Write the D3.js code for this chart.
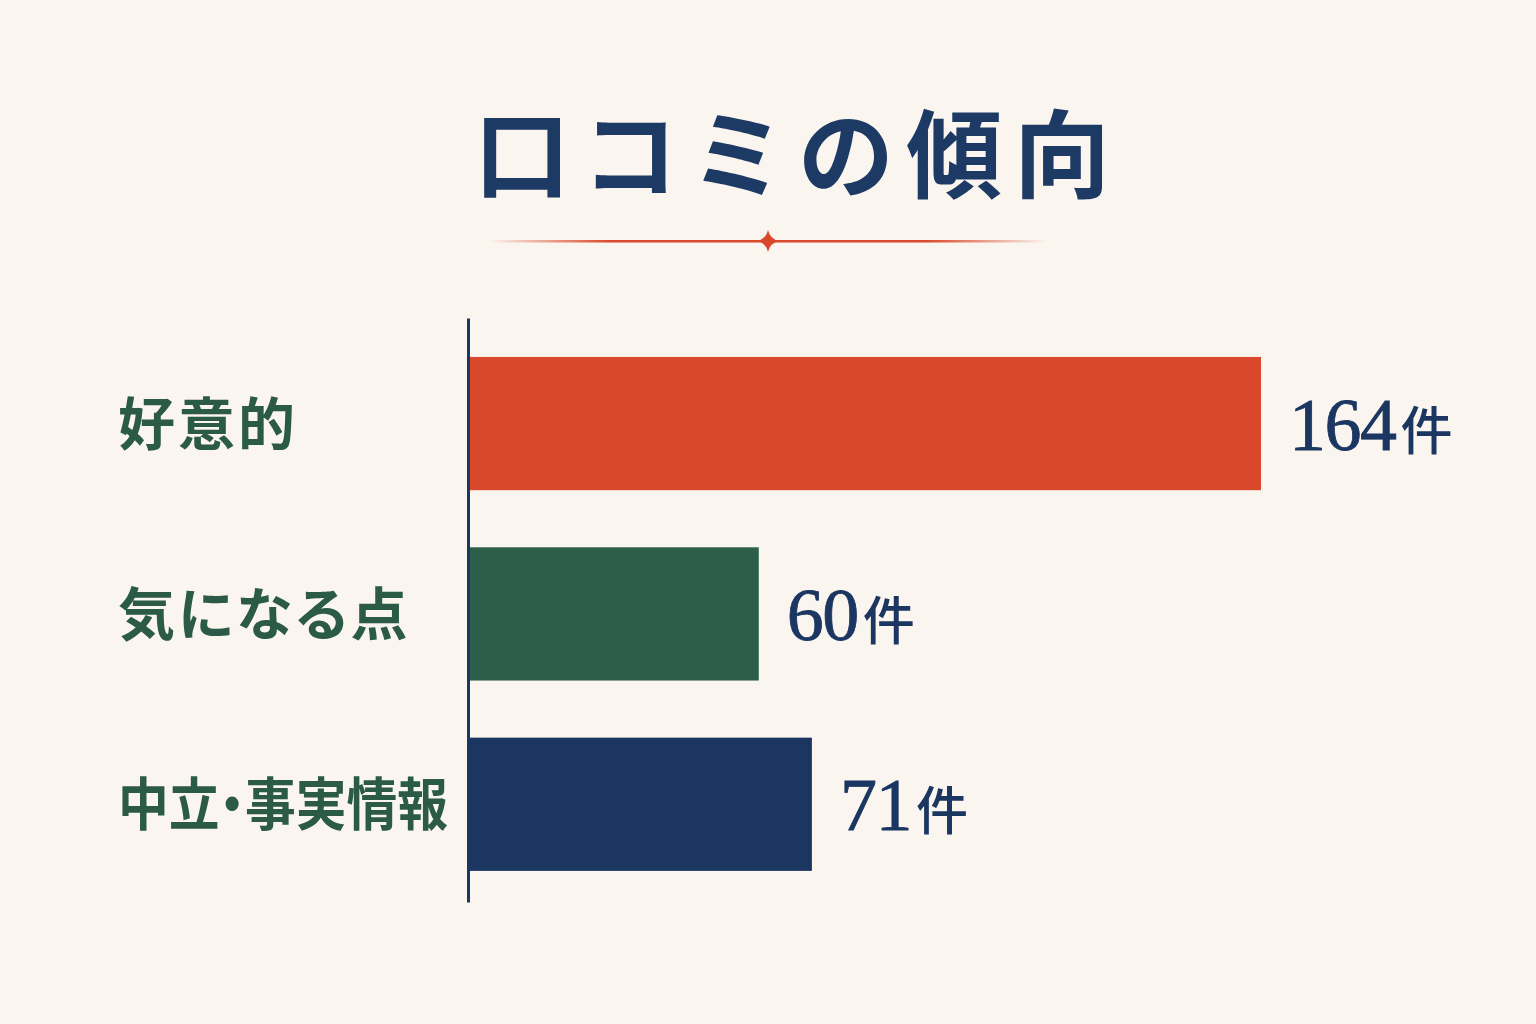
<!DOCTYPE html>
<html lang="ja">
  <head>
    <meta charset="UTF-8" />
    <title>口コミの傾向</title>
    <script src="https://cdn.jsdelivr.net/npm/d3@7"></script>
    <style>
      html, body { margin: 0; padding: 0; background: #faf6ef; }
      svg { display: block; }
      .label { font-feature-settings: "palt"; }
    </style>
  </head>
  <body>
    <div id="chart"></div>
    <script>
      // データ
      const title = "口コミの傾向";
      const categories = ["好意的", "気になる点", "中立・事実情報"];
      const values = [164, 60, 71];
      const unit = "件";
      const colors = ["#d9482b", "#2d5e4a", "#1b3661"];

      const width = 1536;
      const height = 1024;
      const navy = "#1b3661";
      const green = "#2b5a47";
      const jp = "'Noto Sans CJK JP', 'Noto Sans', sans-serif";
      const serif = "'Liberation Serif', 'DejaVu Serif', serif";

      const svg = d3.select("#chart")
        .append("svg")
        .attr("width", width)
        .attr("height", height);

      svg.append("rect")
        .attr("width", width)
        .attr("height", height)
        .attr("fill", "#faf6ef");

      // タイトル
      svg.append("text")
        .attr("x", 798)
        .attr("y", 190)
        .attr("text-anchor", "middle")
        .attr("font-family", jp)
        .attr("font-weight", 700)
        .attr("font-size", 96)
        .attr("letter-spacing", 12)
        .attr("fill", "#1d3a64")
        .text(title);

      // 飾り線
      const defs = svg.append("defs");
      const grad = defs.append("linearGradient").attr("id", "rule");
      grad.append("stop").attr("offset", "0%").attr("stop-color", "#d9482b").attr("stop-opacity", 0);
      grad.append("stop").attr("offset", "22%").attr("stop-color", "#d9482b").attr("stop-opacity", 1);
      grad.append("stop").attr("offset", "78%").attr("stop-color", "#d9482b").attr("stop-opacity", 1);
      grad.append("stop").attr("offset", "100%").attr("stop-color", "#d9482b").attr("stop-opacity", 0);

      svg.append("rect")
        .attr("x", 488)
        .attr("y", 240)
        .attr("width", 560)
        .attr("height", 2.5)
        .attr("fill", "url(#rule)");

      const cx = 768, cy = 241, r = 11;
      svg.append("path")
        .attr("d", `M${cx},${cy - r} Q${cx + 2},${cy - 2} ${cx + r},${cy} Q${cx + 2},${cy + 2} ${cx},${cy + r} Q${cx - 2},${cy + 2} ${cx - r},${cy} Q${cx - 2},${cy - 2} ${cx},${cy - r}Z`)
        .attr("fill", "#d9482b");

      // 比例尺
      const x = d3.scaleLinear()
        .domain([0, d3.max(values)])
        .range([469, 1261]);

      const y = d3.scaleBand()
        .domain(categories)
        .range([318, 902])
        .paddingInner(0.3)
        .paddingOuter(0.184)
        .align(0.556);

      const rows = categories.map((c, i) => ({ c, v: values[i], color: colors[i] }));

      // 棒
      svg.selectAll("rect.bar")
        .data(rows)
        .enter()
        .append("rect")
        .attr("class", "bar")
        .attr("x", x(0))
        .attr("y", (d) => y(d.c))
        .attr("width", (d) => x(d.v) - x(0))
        .attr("height", y.bandwidth())
        .attr("fill", (d) => d.color);

      // 軸
      svg.append("g")
        .attr("transform", `translate(${x(0) - 1},0)`)
        .call(d3.axisLeft(y).tickSize(0).tickFormat(""))
        .call((g) => g.select(".domain").attr("stroke", navy).attr("stroke-width", 3));

      // カテゴリ名
      const maxLabel = 330;
      svg.selectAll("text.label")
        .data(rows)
        .enter()
        .append("text")
        .attr("class", "label")
        .attr("x", 118)
        .attr("y", (d) => y(d.c) + y.bandwidth() / 2 + 21)
        .attr("font-family", jp)
        .attr("font-weight", 700)
        .attr("font-size", 57)
        .attr("letter-spacing", 3)
        .attr("fill", green)
        .text((d) => d.c)
        .each(function () {
          if (this.getComputedTextLength() > maxLabel) {
            d3.select(this)
              .attr("letter-spacing", 0)
              .attr("textLength", maxLabel)
              .attr("lengthAdjust", "spacingAndGlyphs");
          }
        });

      // 値ラベル
      const vl = svg.selectAll("text.value")
        .data(rows)
        .enter()
        .append("text")
        .attr("class", "value")
        .attr("x", (d) => x(d.v) + 28)
        .attr("y", (d) => y(d.c) + y.bandwidth() / 2 + 26)
        .attr("fill", navy);

      vl.append("tspan")
        .attr("font-family", serif)
        .attr("font-size", 74)
        .attr("letter-spacing", -1.5)
        .attr("stroke", navy)
        .attr("stroke-width", 0.8)
        .text((d) => d.v);

      vl.append("tspan")
        .attr("dx", 5)
        .attr("font-family", jp)
        .attr("font-weight", 500)
        .attr("font-size", 52)
        .text(unit);
    </script>
  </body>
</html>
